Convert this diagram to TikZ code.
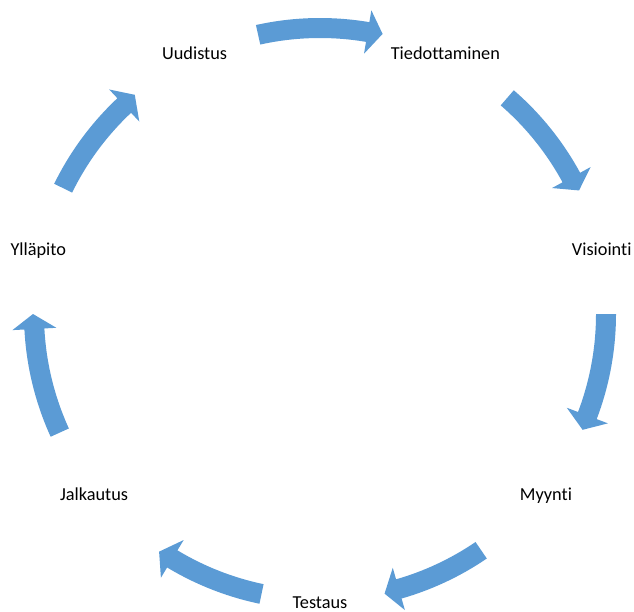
\documentclass[tikz,border=0pt]{standalone}
\usepackage{fontspec}
\setmainfont[Ligatures=NoCommon]{Carlito}
\definecolor{arrowblue}{HTML}{5B9BD5}
\tikzset{
  lbl/.style={font=\fontsize{18.3}{22}\selectfont, text height=12pt, text depth=0pt, inner sep=0pt, anchor=center},
  cyclearrow/.style={fill=arrowblue, draw=none}
}
% #1 = tail angle, #2 = tip angle (clockwise arrow)
\newcommand{\cycarrow}[2]{%
  \pgfmathsetmacro{\ta}{#1}%
  \pgfmathsetmacro{\hb}{#2+3}%
  \pgfmathsetmacro{\tp}{#2}%
  \fill[cyclearrow] (\ta:296pt) arc[start angle=\ta, end angle=\hb, radius=296pt]
    -- (\hb:308pt) -- (\tp:287pt) -- (\hb:264pt) -- (\hb:276pt)
    arc[start angle=\hb, end angle=\ta, radius=276pt] -- cycle;
}
\begin{document}
\begin{tikzpicture}[x=1pt,y=1pt]
\useasboundingbox (0,0) rectangle (634,-612);
\coordinate (c) at (320,-314);
\begin{scope}[shift={(c)}]
  \node[lbl] (testaus) at (-90:288pt) {Testaus};
  \node[lbl] (myynti) at (-38.571:289pt) {Myynti};
  \node[lbl] (visiointi) at (12.857:289pt) {Visiointi};
  \node[lbl] (tiedottaminen) at (64.286:289pt) {Tiedottaminen};
  \node[lbl] (uudistus) at (115.714:289pt) {Uudistus};
  \node[lbl] (yllapito) at (167.143:289pt) {Ylläpito};
  \node[lbl] (jalkautus) at (218.571:289pt) {Jalkautus};
  \cycarrow{102.5}{77.4}
  \cycarrow{49.1}{25.5}
  \cycarrow{0}{-23.8}
  \cycarrow{-55.7}{-77}
  \cycarrow{-101.8}{-124.1}
  \cycarrow{204.5}{180}
  \cycarrow{153.9}{130.2}
\end{scope}
\end{tikzpicture}
\end{document}
